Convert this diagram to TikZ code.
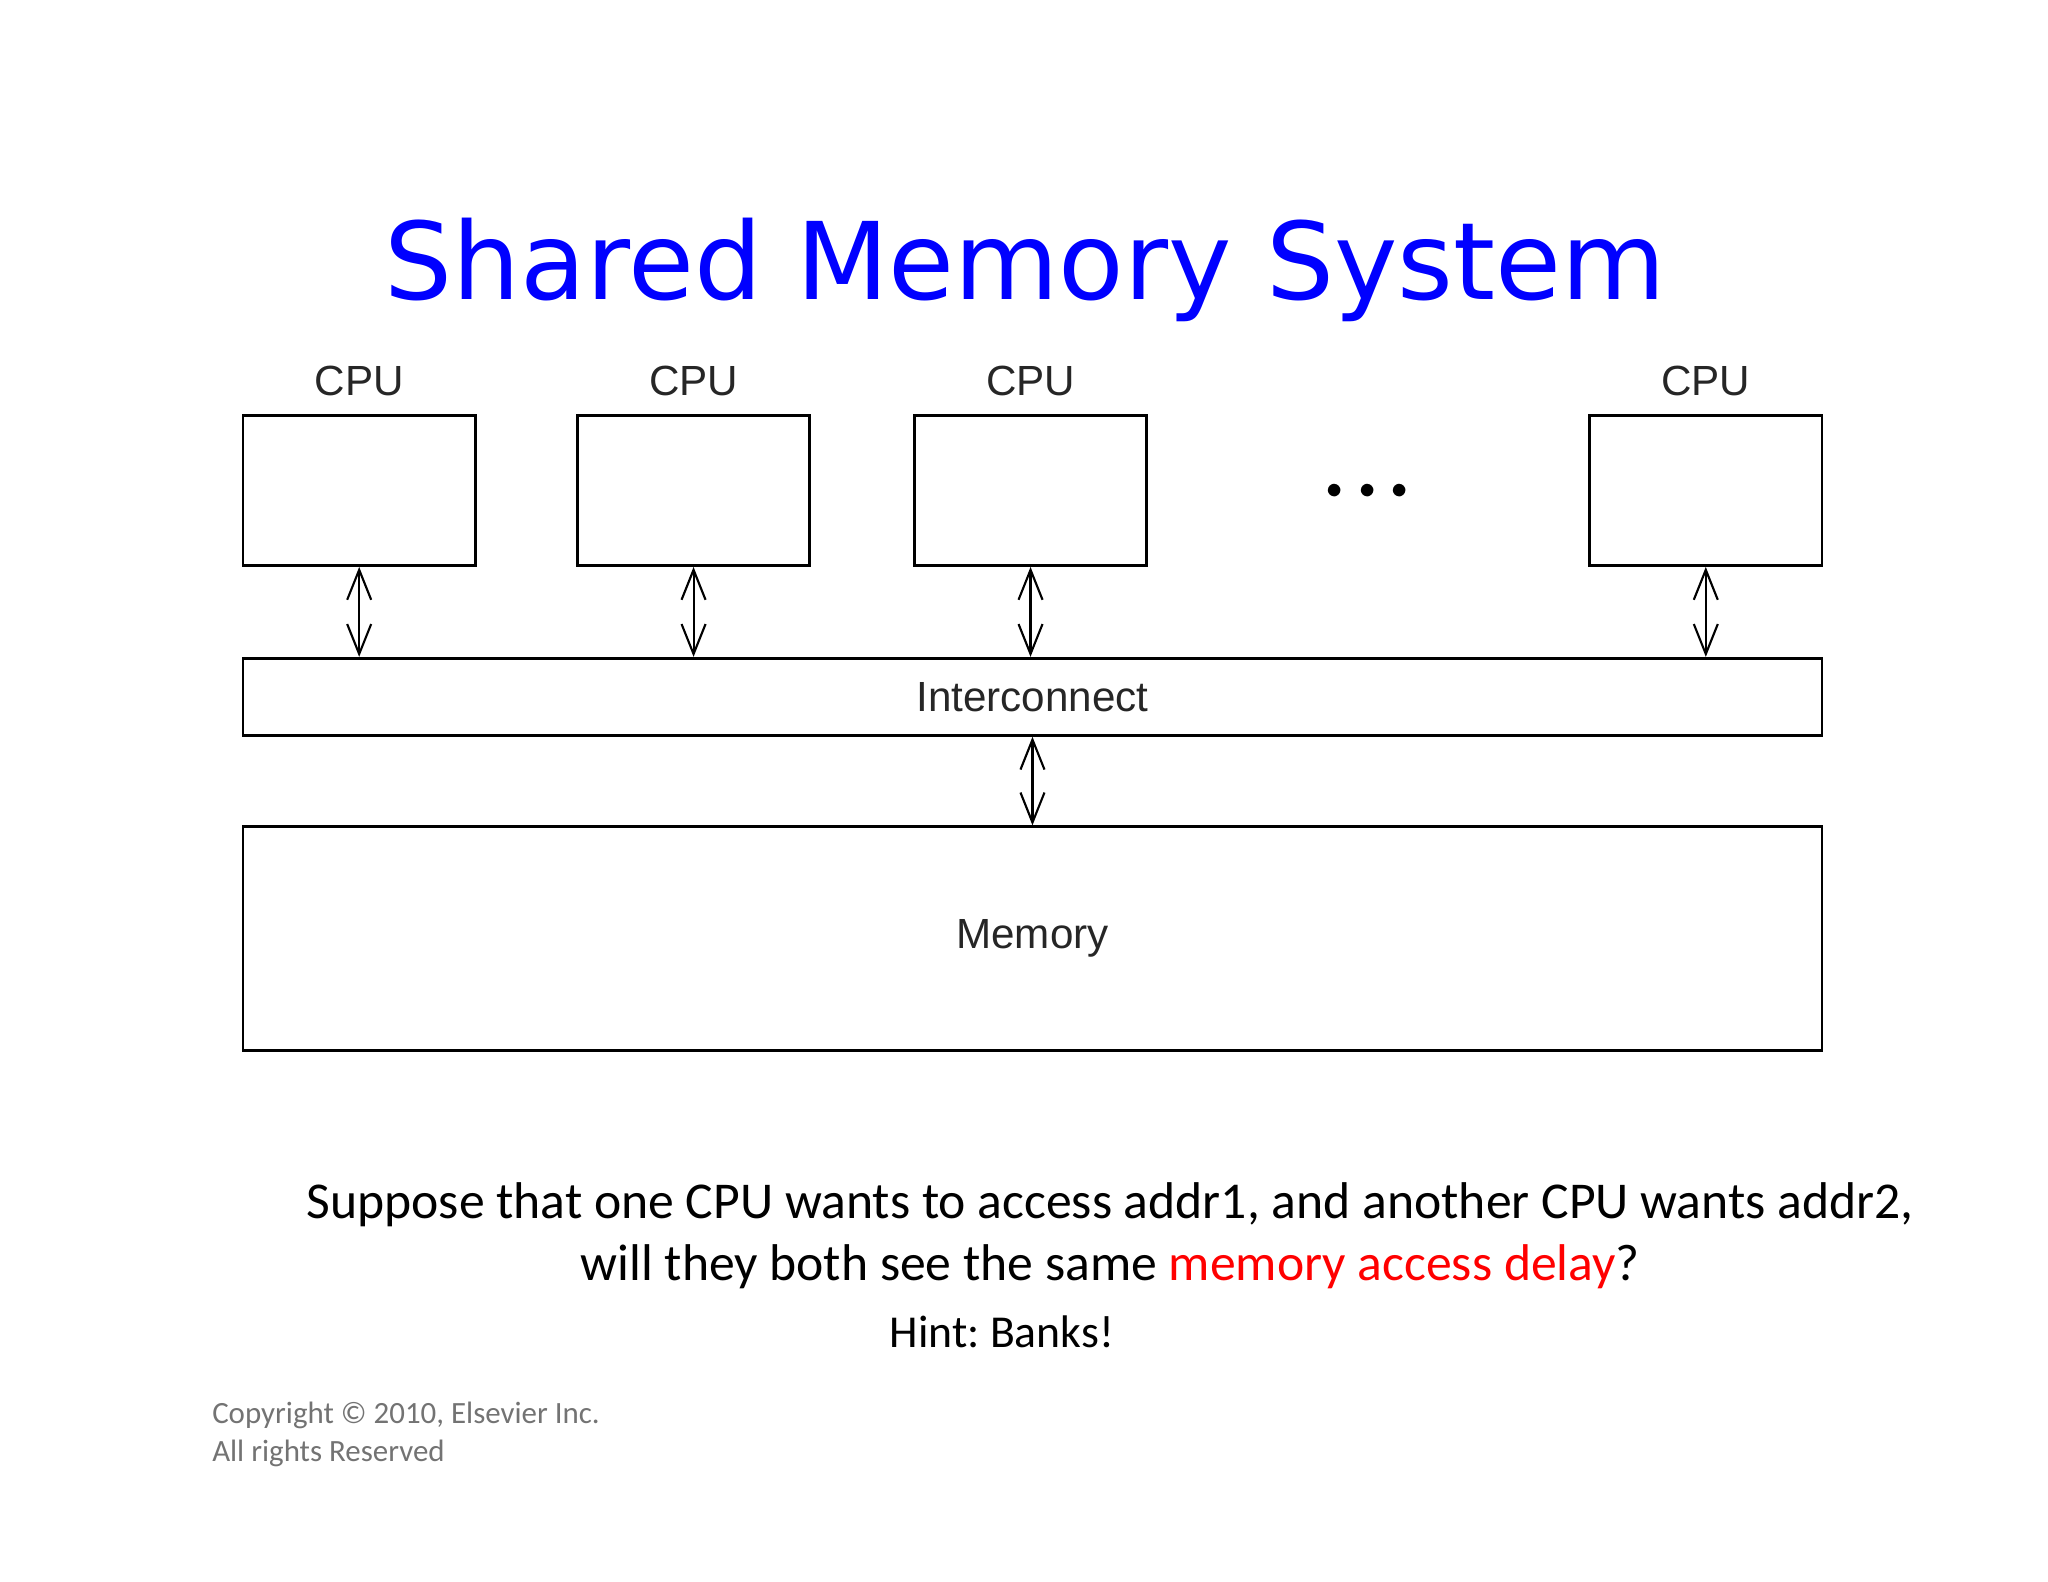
\documentclass[tikz,border=0pt]{standalone}
\usepackage{fontspec}
\setmainfont{Carlito}
\newfontfamily\arialfont{Liberation Sans}
\newfontfamily\titlefont{DejaVu Sans}
\usetikzlibrary{arrows.meta}
\tikzset{
  box/.style={draw, thick, inner sep=0pt},
  link/.style={{Straight Barb[length=3mm,width=2.4mm]}-{Straight Barb[length=3mm,width=2.4mm]}, semithick},
  lbl/.style={font=\arialfont\fontsize{12}{14}\selectfont, text=black!85}
}
\begin{document}
\frenchspacing
\begin{tikzpicture}[x=0.01306cm, y=-0.01306cm]
    \useasboundingbox (0,0) rectangle (1568,1211);
    % Title
    \node[font=\titlefont\fontsize{30.5}{36}\selectfont, text=blue] (title) at (785,207) {Shared Memory System};

    % CPUs
    \foreach \n/\x in {a/275, b/531, c/789, d/1306} {
        \node[box, minimum width=178*0.01306cm, minimum height=115*0.01306cm] (cpu\n) at (\x,375.5) {};
        \node[lbl] (lab\n) at (\x,292) {CPU};
    }
    \node[font=\fontsize{9}{9}\selectfont] (dots) at (1047,376) {$\bullet\;\bullet\;\bullet$};

    % Interconnect and memory
    \node[box, minimum width=1209*0.01306cm, minimum height=59*0.01306cm, lbl] (net) at (790.5,533.5) {Interconnect};
    \node[box, minimum width=1209*0.01306cm, minimum height=171*0.01306cm, lbl] (mem) at (790.5,718.5) {Memory};

    % Links
    \foreach \n in {a,b,c,d} {
        \draw[link] (cpu\n.south) -- (cpu\n.south |- net.north);
    }
    \draw[link] (net.south) -- (mem.north);

    % Question
    \node[font=\fontsize{14.7}{17.5}\selectfont, align=center] (question) at (850,946)
        {Suppose that one CPU wants to access addr1, and another CPU wants addr2,\\
         will they both see the same \textcolor{red}{memory access delay}?};
    \node[font=\fontsize{13}{16}\selectfont] (hint) at (767,1020) {Hint: Banks!};
    \node[font=\fontsize{8.8}{10.8}\selectfont, text=black!55, align=left, anchor=north west] (copy) at (153,1064)
        {Copyright © 2010, Elsevier Inc.\\All rights Reserved};
\end{tikzpicture}
\end{document}
